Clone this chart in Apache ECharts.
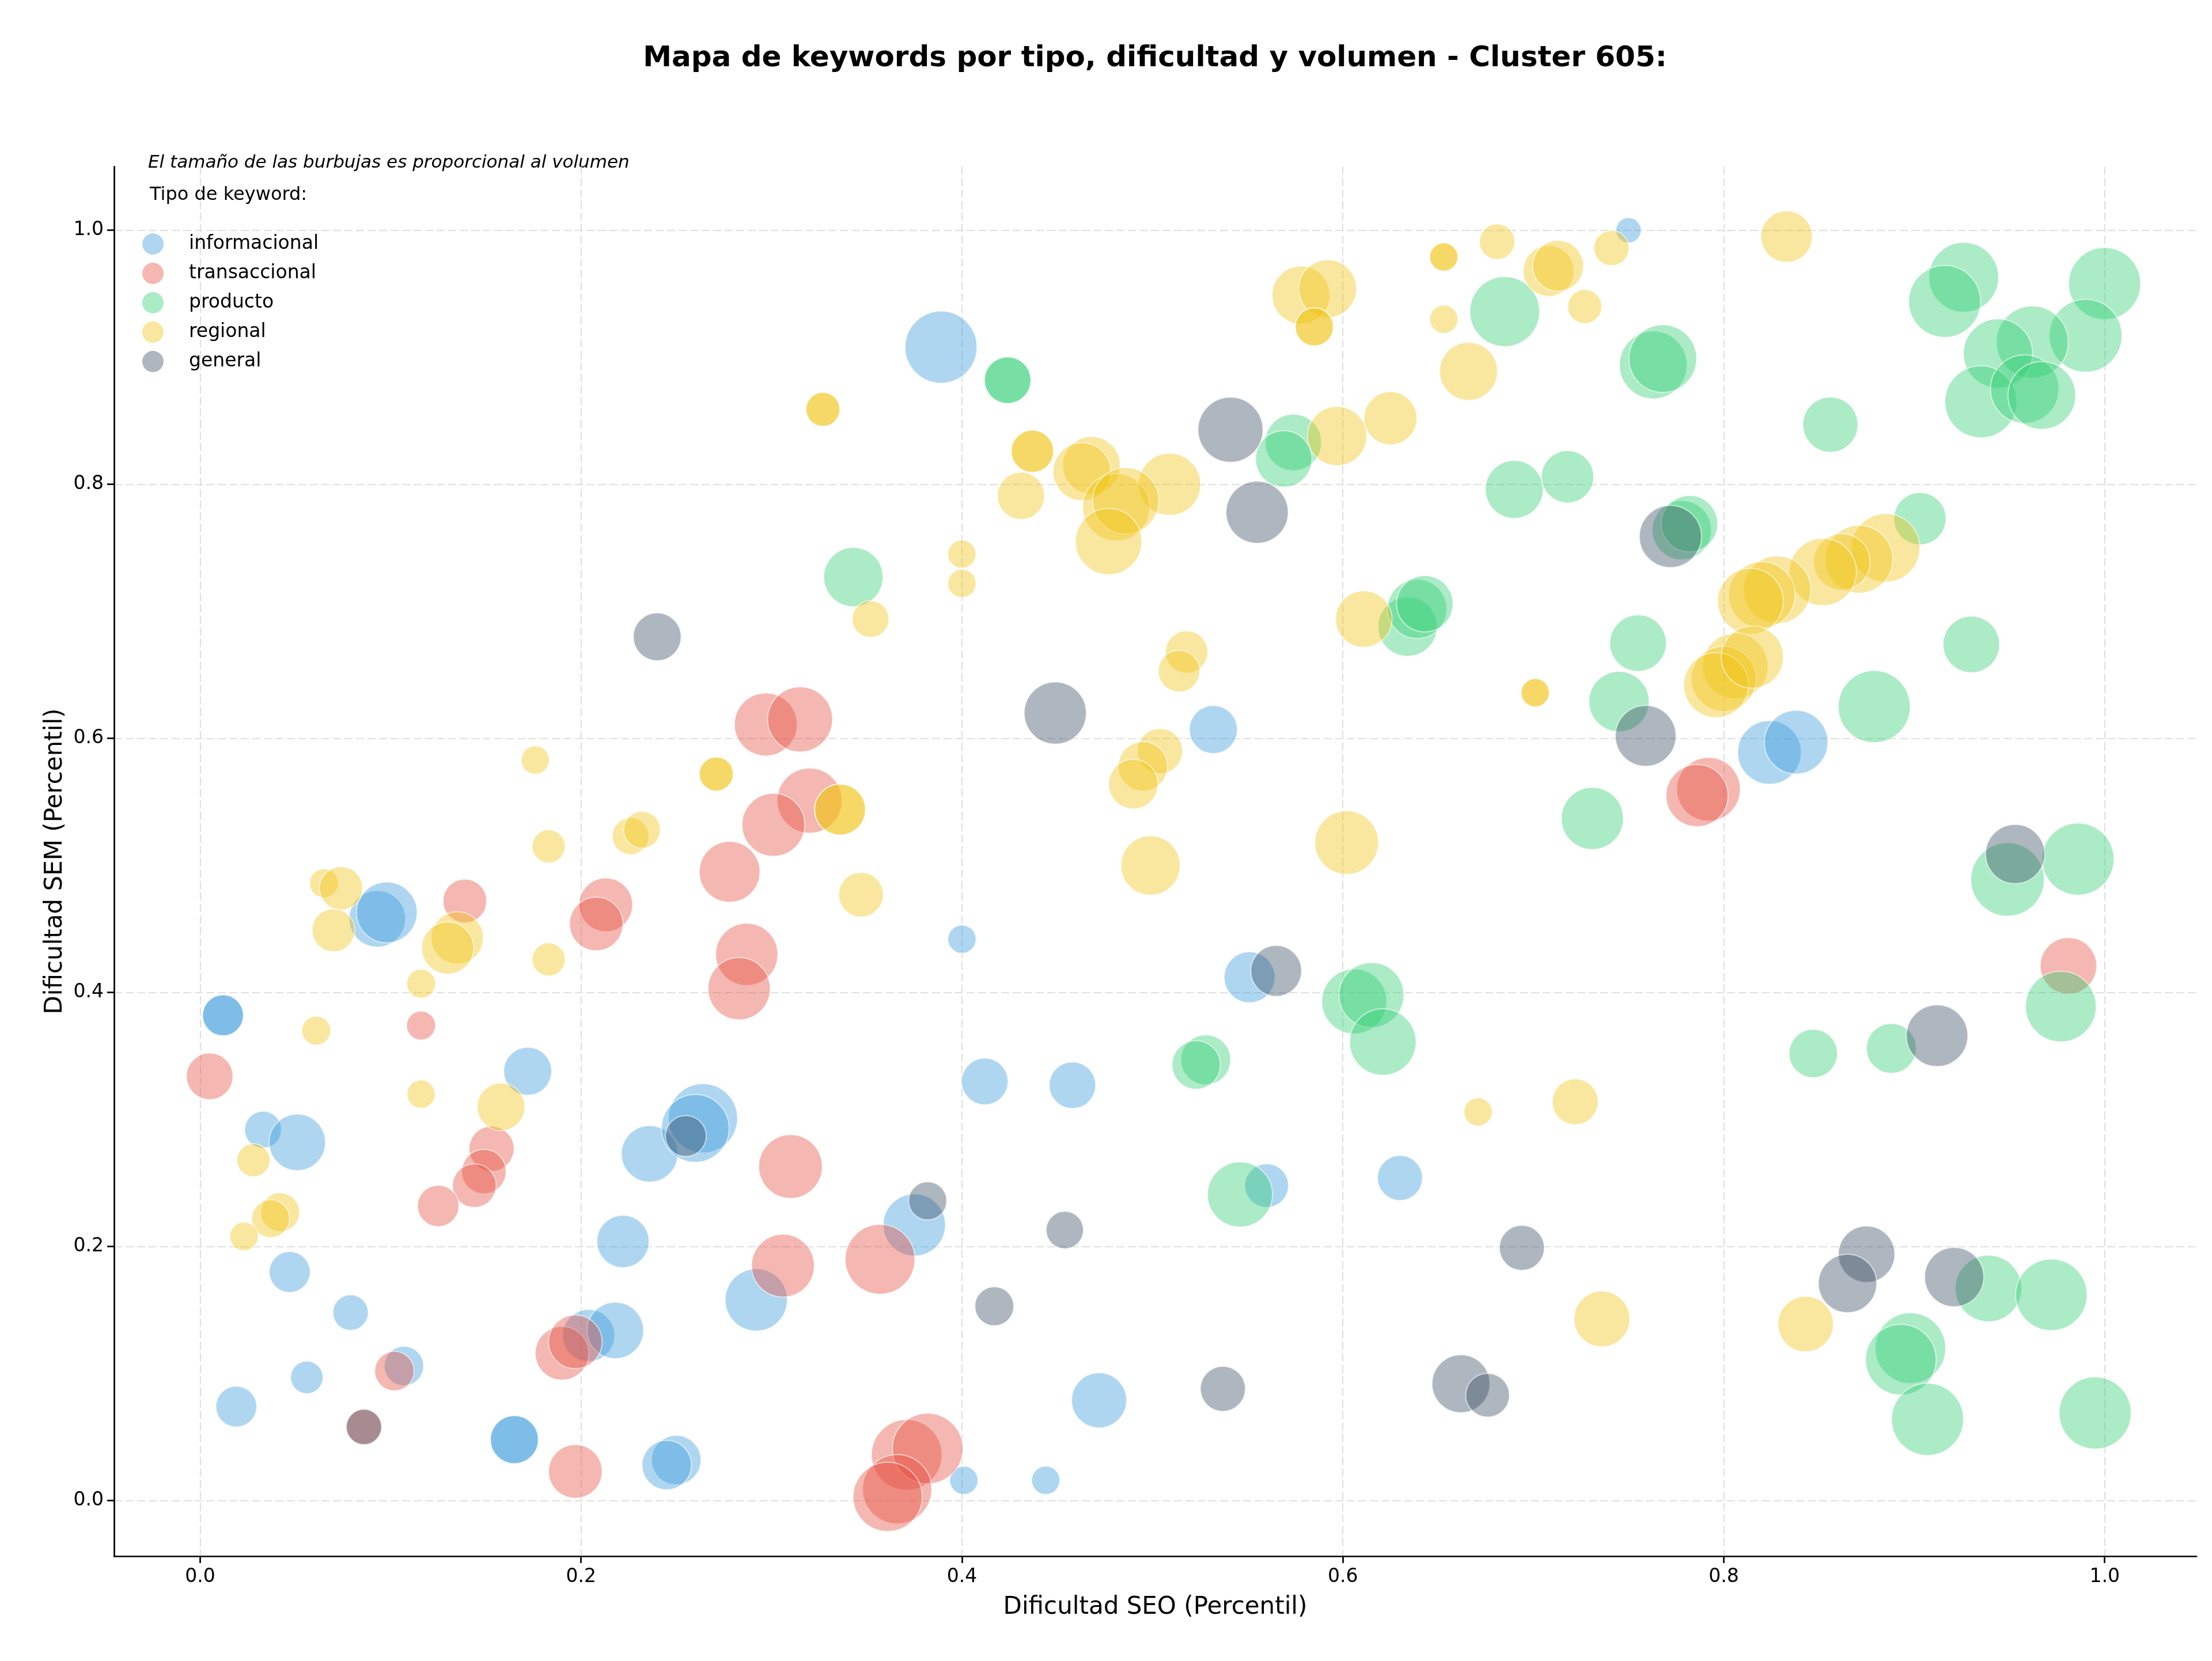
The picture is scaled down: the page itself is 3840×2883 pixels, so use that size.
<!DOCTYPE html>
<html>
<head>
<meta charset="utf-8">
<title>Mapa de keywords - Cluster 605</title>
<script src="https://cdn.jsdelivr.net/npm/echarts@6/dist/echarts.min.js"></script>
<style>
  html, body { margin: 0; padding: 0; background: #fff; }
  #chart { width: 3840px; height: 2883px; }
</style>
</head>
<body>
<div id="chart"></div>
<script>
// tipos de keyword y su color
const tipos = ['informacional', 'transaccional', 'producto', 'regional', 'general'];
const colores = ['rgba(52,152,219,0.5)', 'rgba(231,76,60,0.5)', 'rgba(46,204,113,0.5)', 'rgba(241,196,15,0.5)', 'rgba(52,73,94,0.5)'];
const ticks = [0, 0.2, 0.4, 0.6, 0.8, 1.0];

// [dificultad SEO, dificultad SEM, volumen]
const informacional = [
  [0.389, 0.908, 2600], [0.750, 1.000, 320], [0.532, 0.607, 1160], [0.824, 0.589, 2030],
  [0.838, 0.597, 2030], [0.400, 0.442, 400], [0.093, 0.458, 1600], [0.098, 0.463, 1850],
  [0.012, 0.382, 840], [0.012, 0.382, 840], [0.172, 0.338, 1160], [0.033, 0.292, 680],
  [0.051, 0.282, 1600], [0.047, 0.180, 840], [0.079, 0.148, 630], [0.107, 0.106, 780],
  [0.056, 0.097, 530], [0.019, 0.074, 840], [0.165, 0.048, 1160], [0.165, 0.048, 1160],
  [0.204, 0.130, 1370], [0.218, 0.134, 1600], [0.222, 0.204, 1370], [0.236, 0.273, 1600],
  [0.264, 0.301, 2400], [0.260, 0.293, 2300], [0.292, 0.158, 1940], [0.375, 0.217, 1940],
  [0.250, 0.032, 1230], [0.245, 0.028, 1230], [0.401, 0.016, 400], [0.444, 0.016, 400],
  [0.472, 0.079, 1520], [0.412, 0.330, 1090], [0.458, 0.327, 1090], [0.560, 0.248, 960],
  [0.630, 0.254, 1020], [0.551, 0.412, 1300]
];
const transaccional = [
  [0.297, 0.611, 1980], [0.315, 0.615, 2120], [0.320, 0.551, 2120], [0.301, 0.532, 1980],
  [0.278, 0.495, 1850], [0.287, 0.430, 1940], [0.283, 0.403, 1940], [0.139, 0.472, 960],
  [0.213, 0.469, 1440], [0.208, 0.454, 1440], [0.116, 0.374, 420], [0.005, 0.334, 1090],
  [0.153, 0.277, 1020], [0.149, 0.259, 990], [0.144, 0.248, 960], [0.125, 0.232, 860],
  [0.102, 0.102, 780], [0.086, 0.058, 630], [0.190, 0.116, 1440], [0.197, 0.125, 1440],
  [0.197, 0.023, 1440], [0.310, 0.263, 2030], [0.306, 0.185, 1980], [0.357, 0.190, 2440],
  [0.371, 0.036, 2500], [0.382, 0.041, 2500], [0.366, 0.009, 2400], [0.361, 0.003, 2400],
  [0.792, 0.560, 2030], [0.786, 0.555, 1940], [0.981, 0.421, 1600]
];
const producto = [
  [0.424, 0.882, 1090], [0.424, 0.882, 1090], [0.343, 0.727, 1760], [0.685, 0.936, 2450],
  [0.763, 0.894, 2300], [0.768, 0.899, 2300], [0.574, 0.833, 1600], [0.569, 0.820, 1600],
  [0.690, 0.796, 1680], [0.718, 0.806, 1370], [0.634, 0.688, 1760], [0.639, 0.702, 1760],
  [0.643, 0.706, 1600], [0.926, 0.963, 2440], [0.916, 0.944, 2600], [1.000, 0.958, 2600],
  [0.990, 0.917, 2660], [0.962, 0.912, 2600], [0.944, 0.903, 2400], [0.935, 0.865, 2600],
  [0.958, 0.875, 2350], [0.967, 0.870, 2300], [0.856, 0.847, 1520], [0.903, 0.773, 1370],
  [0.778, 0.764, 1760], [0.782, 0.769, 1600], [0.930, 0.674, 1600], [0.879, 0.625, 2600],
  [0.949, 0.489, 2700], [0.986, 0.505, 2600], [0.977, 0.389, 2500], [0.847, 0.352, 1180],
  [0.888, 0.356, 1250], [0.755, 0.675, 1600], [0.745, 0.629, 1820], [0.731, 0.537, 1940],
  [0.606, 0.393, 2120], [0.615, 0.398, 2120], [0.621, 0.361, 2210], [0.528, 0.347, 1250],
  [0.523, 0.343, 1180], [0.546, 0.241, 2120], [0.939, 0.167, 2210], [0.972, 0.162, 2560],
  [0.898, 0.120, 2500], [0.893, 0.111, 2500], [0.907, 0.064, 2600], [0.995, 0.069, 2600]
];
const regional = [
  [0.833, 0.995, 1330], [0.681, 0.991, 630], [0.653, 0.979, 400], [0.653, 0.979, 400],
  [0.653, 0.930, 400], [0.741, 0.986, 620], [0.708, 0.968, 1300], [0.713, 0.972, 1300],
  [0.727, 0.940, 580], [0.578, 0.949, 1680], [0.592, 0.954, 1680], [0.585, 0.924, 730],
  [0.585, 0.924, 730], [0.666, 0.889, 1680], [0.597, 0.838, 1760], [0.625, 0.852, 1410],
  [0.509, 0.800, 1940], [0.611, 0.694, 1600], [0.327, 0.859, 580], [0.327, 0.859, 580],
  [0.400, 0.745, 400], [0.400, 0.722, 400], [0.437, 0.826, 900], [0.437, 0.826, 900],
  [0.431, 0.791, 1120], [0.468, 0.815, 1660], [0.463, 0.810, 1680], [0.481, 0.782, 2260],
  [0.486, 0.787, 2210], [0.477, 0.755, 2210], [0.352, 0.694, 680], [0.885, 0.750, 2350],
  [0.871, 0.741, 2300], [0.862, 0.739, 1600], [0.852, 0.731, 2270], [0.828, 0.717, 2290],
  [0.820, 0.713, 2210], [0.814, 0.708, 2170], [0.806, 0.657, 2170], [0.800, 0.647, 2120],
  [0.796, 0.642, 2120], [0.815, 0.664, 1940], [0.701, 0.636, 400], [0.701, 0.636, 400],
  [0.602, 0.518, 2030], [0.499, 0.500, 1760], [0.518, 0.668, 900], [0.514, 0.653, 870],
  [0.504, 0.590, 1020], [0.495, 0.578, 1230], [0.490, 0.564, 1230], [0.671, 0.306, 400],
  [0.722, 0.314, 1060], [0.736, 0.143, 1560], [0.843, 0.139, 1540], [0.176, 0.583, 400],
  [0.183, 0.515, 550], [0.226, 0.523, 680], [0.232, 0.528, 680], [0.065, 0.486, 420],
  [0.074, 0.482, 940], [0.070, 0.449, 920], [0.135, 0.443, 1370], [0.130, 0.435, 1370],
  [0.116, 0.407, 420], [0.061, 0.370, 420], [0.183, 0.426, 550], [0.116, 0.320, 400],
  [0.158, 0.310, 1140], [0.028, 0.268, 550], [0.042, 0.227, 760], [0.037, 0.222, 720],
  [0.023, 0.208, 410], [0.271, 0.572, 580], [0.271, 0.572, 580], [0.336, 0.544, 1300],
  [0.336, 0.544, 1300], [0.347, 0.477, 1000]
];
const general = [
  [0.240, 0.680, 1150], [0.449, 0.620, 1940], [0.541, 0.843, 2120], [0.555, 0.778, 1940],
  [0.772, 0.759, 1940], [0.759, 0.602, 1850], [0.565, 0.417, 1300], [0.255, 0.287, 840],
  [0.382, 0.236, 730], [0.454, 0.213, 700], [0.417, 0.153, 760], [0.086, 0.058, 630],
  [0.537, 0.088, 1020], [0.662, 0.092, 1680], [0.676, 0.083, 960], [0.694, 0.199, 1020],
  [0.875, 0.194, 1600], [0.865, 0.171, 1710], [0.921, 0.176, 1760], [0.912, 0.366, 1900],
  [0.953, 0.509, 1760]
];

const datos = [informacional, transaccional, producto, regional, general];
const FONT = '"DejaVu Sans", sans-serif';

const chart = echarts.init(document.getElementById('chart'), null, { renderer: 'canvas' });

// ejes estilo matplotlib (sin spines arriba/derecha)
function eje(nombre, min, max, extra) {
  return Object.assign({
    type: 'value',
    min: min,
    max: max,
    name: nombre,
    nameLocation: 'middle',
    nameTextStyle: { fontSize: 42, color: '#000', fontFamily: FONT },
    axisLine: { show: true, onZero: false, lineStyle: { color: '#000', width: 2.7 } },
    axisTick: { show: true, length: 12, customValues: ticks, lineStyle: { color: '#000', width: 2.7 } },
    splitLine: { show: true, lineStyle: { color: '#e0e0e0', width: 2.2, type: [14, 6] } }
  }, extra);
}

const option = {
  animation: false,
  backgroundColor: '#fff',
  grid: { left: 198, top: 289, right: 27, bottom: 182, containLabel: false },
  xAxis: eje('Dificultad SEO (Percentil)', -0.0452, 1.0482, {
    nameGap: 68,
    axisLabel: { customValues: ticks, formatter: v => v.toFixed(1), fontSize: 33, color: '#000', margin: 20, fontFamily: FONT }
  }),
  yAxis: eje('Dificultad SEM (Percentil)', -0.0437, 1.0502, {
    nameGap: 80,
    axisLabel: { customValues: ticks, formatter: v => v.toFixed(1), fontSize: 33, color: '#000', margin: 18, fontFamily: FONT }
  }),
  legend: {
    orient: 'vertical',
    left: 242,
    top: 400,
    itemWidth: 115,
    itemHeight: 37,
    itemGap: 14,
    icon: 'circle',
    itemStyle: { borderWidth: 0 },
    textStyle: { fontSize: 33, color: '#000', fontFamily: FONT },
    data: tipos
  },
  graphic: [
    {
      type: 'text', x: 2005, y: 102,
      style: { text: 'Mapa de keywords por tipo, dificultad y volumen - Cluster 605:', font: 'bold 50px ' + FONT,
        fill: '#000', textAlign: 'center', textVerticalAlign: 'middle', align: 'center', verticalAlign: 'middle' }
    },
    {
      type: 'text', x: 257, y: 283,
      style: { text: 'El tamaño de las burbujas es proporcional al volumen', font: 'italic 31px ' + FONT,
        fill: '#000', textAlign: 'left', textVerticalAlign: 'middle', align: 'left', verticalAlign: 'middle' }
    },
    {
      type: 'text', x: 260, y: 339,
      style: { text: 'Tipo de keyword:', font: '32px ' + FONT,
        fill: '#000', textAlign: 'left', textVerticalAlign: 'middle', align: 'left', verticalAlign: 'middle' }
    }
  ],
  series: tipos.map((t, i) => ({
    name: t,
    type: 'scatter',
    data: datos[i],
    symbol: 'circle',
    symbolSize: d => Math.sqrt(d[2]) * 2.449,
    itemStyle: { color: colores[i], borderColor: 'rgba(255,255,255,0.7)', borderWidth: 2 },
    emphasis: { disabled: true }
  }))
};

chart.setOption(option);
</script>
</body>
</html>
